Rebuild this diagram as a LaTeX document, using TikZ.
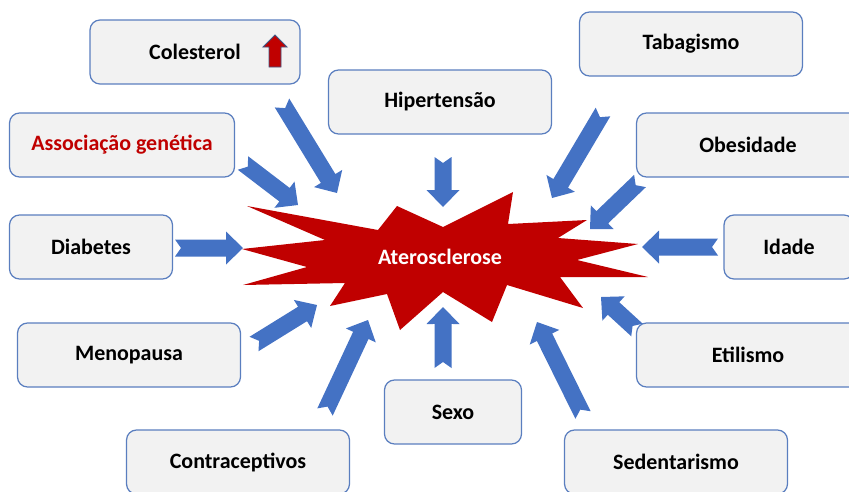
\documentclass[tikz,border=0pt]{standalone}
\usepackage{fontspec}
\setmainfont{Carlito}
\usetikzlibrary{calc}
\definecolor{tazul}{HTML}{4472C4}
\definecolor{tborda}{HTML}{5A7EBF}
\definecolor{tcinza}{HTML}{F2F2F2}
\definecolor{tvermelho}{HTML}{C00000}

\begin{document}
\begin{tikzpicture}[
    x=0.02cm, y=-0.02cm,
    fator/.style={draw=tborda, rectangle, rounded corners=0.2cm, minimum height=1.28cm,
                  minimum width=4.46cm, align=center, line width=0.7pt, fill=tcinza,
                  inner sep=0pt, font={\fontsize{12.5}{15}\selectfont\bfseries}},
    seta/.style={fill=tazul, to path={
        ($(\tikztostart)!0.12cm!(\tikztotarget)$)
        -- ($(\tikztostart)!0.17cm!90:(\tikztotarget)$)
        -- ($(\tikztotarget)!0.38cm!-26.57:(\tikztostart)$)
        -- ($(\tikztotarget)!0.474cm!-44.15:(\tikztostart)$)
        -- (\tikztotarget)
        -- ($(\tikztotarget)!0.474cm!44.15:(\tikztostart)$)
        -- ($(\tikztotarget)!0.38cm!26.57:(\tikztostart)$)
        -- ($(\tikztostart)!0.17cm!-90:(\tikztotarget)$)
        -- cycle}}
  ]
  \useasboundingbox (0,0) rectangle (849,491);
  \clip (0,0) rectangle (849,491);

  % fatores de risco
  \node[fator, minimum width=4.2cm] (col) at (195,52) {Colesterol\hspace*{0pt}};
  \node[fator] (hip) at (440,102) {Hipertensão};
  \node[fator] (tab) at (691,44) {Tabagismo};
  \node[fator, minimum width=4.5cm, text=tvermelho] (gen) at (122,145) {Associação genética};
  \node[fator] (obe) at (748,145) {Obesidade};
  \node[fator, minimum width=3.26cm] (dia) at (91,247) {Diabetes};
  \node[fator, minimum width=2.6cm] (ida) at (789,247) {Idade};
  \node[fator] (men) at (129,355) {Menopausa};
  \node[fator] (eti) at (748,355) {Etilismo};
  \node[fator] (con) at (238,462) {Contraceptivos};
  \node[fator, minimum width=2.74cm] (sex) at (453,412) {Sexo};
  \node[fator] (sed) at (676,462) {Sedentarismo};

  % seta vermelha do colesterol
  \coordinate (col-seta) at (275,67);
  \filldraw[fill=tvermelho, draw=tborda!70!black, line width=0.5pt, shift={(col-seta)}]
    (-6,0) -- (-6,-20) -- (-12,-20) -- (0,-32) -- (12,-20) -- (6,-20) -- (6,0) -- cycle;

  % explosao central
  \fill[tvermelho] (247,206) -- (378,230) -- (397,206) -- (443,227) -- (513,192)
    -- (508,224) -- (587,220) -- (558,238) -- (638,244) -- (577,260) -- (648,277)
    -- (560,277) -- (583,308) -- (507,285) -- (492,322) -- (443,292) -- (400,330)
    -- (387,294) -- (330,306) -- (345,283) -- (243,285) -- (307,267) -- (242,249)
    -- (325,240) -- cycle;
  \node[text=white, font={\fontsize{12.5}{15}\selectfont\bfseries}] (ate) at (440,257) {Aterosclerose};

  % setas
  \coordinate (col-i) at (282,103);  \coordinate (col-f) at (337,193);
  \coordinate (gen-i) at (243,163);  \coordinate (gen-f) at (298,205);
  \coordinate (hip-i) at (443,157);  \coordinate (hip-f) at (443,207);
  \coordinate (tab-i) at (603,112);  \coordinate (tab-f) at (552,198);
  \coordinate (obe-i) at (640,181);  \coordinate (obe-f) at (590,229);
  \coordinate (ida-i) at (718,247);  \coordinate (ida-f) at (642,247);
  \coordinate (dia-i) at (175,248);  \coordinate (dia-f) at (243,248);
  \coordinate (men-i) at (254,344);  \coordinate (men-f) at (317,305);
  \coordinate (con-i) at (325,412);  \coordinate (con-f) at (368,320);
  \coordinate (sex-i) at (443,368);  \coordinate (sex-f) at (443,307);
  \coordinate (sed-i) at (583,415);  \coordinate (sed-f) at (537,322);
  \coordinate (eti-i) at (637,330);  \coordinate (eti-f) at (601,297);
  \foreach \f in {col,gen,hip,tab,obe,ida,dia,men,con,sex,sed,eti}
    \path[seta] (\f-i) to (\f-f);

\end{tikzpicture}
\end{document}
